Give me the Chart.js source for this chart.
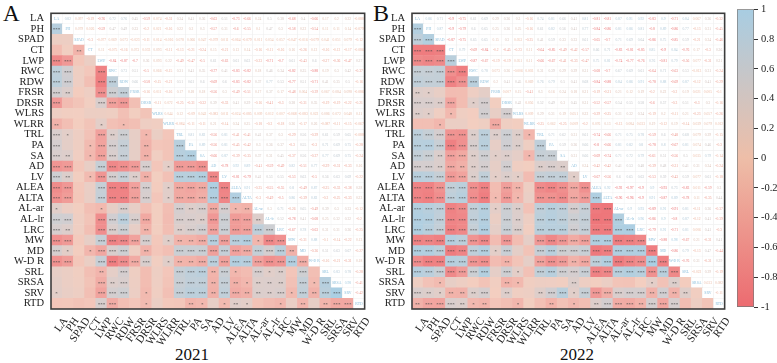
<!DOCTYPE html>
<html><head><meta charset="utf-8">
<style>
html,body{margin:0;padding:0;background:#fff;width:777px;height:363px;overflow:hidden}
canvas{position:absolute}
.t{position:absolute;font-family:"Liberation Serif",serif;color:#111;line-height:1}
</style>
<script src="https://cdn.jsdelivr.net/npm/chart.js@4/dist/chart.umd.min.js"></script>
</head><body>
<div class="t" style="left:3px;top:2px;font-size:23px">A</div>
<div class="t" style="left:373px;top:1px;font-size:24px">B</div>
<div class="t" style="left:175px;top:346px;font-size:17px">2021</div>
<div class="t" style="left:560px;top:346px;font-size:17px">2022</div>
<div style="position:absolute;left:0;top:0;width:376px;height:350px"><canvas id="a"></canvas></div>
<div style="position:absolute;left:360px;top:0;width:376px;height:350px"><canvas id="b"></canvas></div>
<div style="position:absolute;left:733px;top:0;width:44px;height:320px"><canvas id="c"></canvas></div>
<script>
const traits=["LA","PH","SPAD","CT","LWP","RWC","RDW","FRSR","DRSR","WLRS","WLRR","TRL","PA","SA","AD","LV","ALEA","ALTA","AL-ar","AL-lr","LRC","MW","MD","W-D R","SRL","SRSA","SRV","RTD"];
const corr2021=[[],
[.82],
[.097,.079],
[-.19,.026,-.3],
[-.76,-.59,-.077,.11],
[.72,.47,.069,-.075,-.84],
[.76,.49,.073,-.16,-.87,.73],
[.45,.33,-.023,.073,-.7,.51,.66],
[-.59,-.2,-.11,.033,.36,-.5,-.58,-.16],
[.074,.021,.014,.093,.093,.066,-.15,.011,-.11],
[-.31,-.16,-.016,-.11,.22,-.15,-.21,-.16,.072,.044],
[.34,.22,.078,-.13,-.49,.31,.51,.17,-.25,.12,-.084],
[.41,.2,.066,-.21,-.47,.41,.61,.18,-.31,-.09,-.11,.81],
[.36,.3,.047,-.24,-.5,.35,.6,.18,-.32,.042,-.11,.82,.89],
[-.63,-.57,-.079,.15,.61,-.77,-.69,-.56,.39,-.083,.21,-.56,-.56,-.66],
[.51,.31,.011,-.21,-.63,.41,.6,.3,-.33,.011,-.14,.81,.81,.87,-.78],
[-.73,-.6,-.064,.13,.61,-.83,-.83,-.49,.41,-.024,.24,-.41,-.45,-.39,.92,-.81],
[-.66,-.55,-.079,.14,.63,-.82,-.82,-.51,.39,-.085,.25,-.41,-.42,-.35,.89,-.79,.91],
[.24,.1,.011,-.16,-.23,.18,.37,.17,-.16,.009,-.18,.41,.3,.37,-.41,.41,-.25,-.3],
[.5,.47,.054,-.11,-.71,.46,.77,.37,-.41,.012,-.2,.37,.36,.31,-.59,.53,-.55,-.49,.3],
[.38,.3,.057,-.16,-.7,.34,.53,.17,-.3,.007,-.18,.3,.37,.45,-.49,.55,-.55,-.5,.71,.52],
[-.68,-.58,-.047,.16,.61,-.82,-.77,-.48,.38,-.068,.26,-.29,-.3,-.37,.82,-.53,.8,.86,-.26,-.78,-.67],
[.4,.22,-.016,-.26,-.43,.35,.51,.064,-.31,-.083,-.17,.56,.55,.56,-.51,.63,-.49,-.39,.65,.41,.78,-.31],
[-.66,-.54,-.079,.12,.6,-.88,-.71,-.39,.35,.022,.26,-.29,-.3,-.37,.77,-.5,.87,.82,-.49,-.68,-.63,.88,-.36],
[.17,.11,.041,-.16,-.27,.19,.41,.067,-.19,.086,-.087,.61,.71,.77,-.29,.56,-.25,-.2,.39,.25,.31,-.1,.51,-.16],
[.2,.11,.051,-.12,-.36,.3,.35,.084,-.19,.072,-.11,.59,.69,.69,-.31,.63,-.33,-.25,.3,.32,.31,-.14,.63,-.21,.83],
[.22,.14,.079,-.17,-.47,.42,.5,.098,-.22,.048,-.15,.65,.75,.75,-.33,.69,-.38,-.33,.33,.32,.36,-.22,.67,-.31,.78,.98],
[-.088,-.079,-.12,-.086,.37,-.37,-.16,-.086,-.21,.11,-.067,-.088,-.28,-.24,.16,-.22,.28,.23,-.12,-.2,-.25,.13,-.27,.18,-.28,-.41,-.42]];
const corr2022=[[],
[.86],
[.71,.87],
[-.9,-.9,-.87],
[-.75,-.79,-.75,.79],
[.61,.6,.65,-.69,-.87],
[.69,.65,.65,-.84,-.67,.78],
[.29,.25,.15,-.2,-.19,.073,.2],
[.36,.36,.3,-.45,-.19,.26,.41,.007],
[.3,.25,.053,-.23,.051,-.006,.45,.15,.42],
[-.16,-.16,-.25,.11,.11,.003,.069,-.41,.056,.009],
[.74,.61,.41,-.64,-.66,.31,.76,.3,.52,.29,-.25],
[.81,.82,.59,-.85,-.67,.39,.79,.16,.49,.31,.062,.71],
[.66,.56,.33,-.49,-.41,.29,.5,.24,.3,.19,-.25,.62,.59],
[.41,.41,.33,-.42,-.33,.29,.41,.18,.45,.051,.009,.31,.36,.31],
[.81,.77,.61,-.57,-.47,.31,.68,.21,.31,.22,-.2,.61,.66,.66,.24],
[-.81,-.84,-.65,.66,.75,-.68,-.84,-.19,-.52,-.29,.076,-.74,-.8,-.69,-.42,-.67],
[-.81,-.86,-.7,.71,.81,-.7,-.88,-.21,-.57,-.25,.13,-.66,-.66,-.74,-.42,-.56,.92],
[.87,.81,.71,-.83,-.74,.67,.84,.21,.54,.31,-.13,.71,.81,.71,.41,.6,-.92,-.96],
[.91,.86,.69,-.81,-.77,.69,.86,.12,.55,.32,.084,.75,.82,.72,.53,.65,-.97,-.96,.9],
[.92,.81,.64,-.85,-.76,.61,.91,.19,.58,.34,.033,.78,.8,.79,.48,.63,-.9,-.9,.93,.96],
[-.83,-.8,-.86,.85,.76,-.64,-.78,-.2,-.6,-.19,.19,-.59,-.78,-.61,-.39,-.53,.9,.91,-.89,-.86,-.79],
[.9,.89,.75,-.9,-.81,.71,.88,.22,.57,.2,-.12,.6,.8,.51,.48,.59,-.93,-.87,.91,.9,.91,-.88],
[-.71,-.86,-.85,.84,.79,-.63,-.69,-.2,-.3,-.11,.19,-.48,-.67,-.56,-.31,-.43,.73,.89,-.91,-.8,-.71,.98,-.86],
[.84,.77,.59,-.76,-.56,.53,.87,.19,.51,.21,-.14,.68,.81,.5,.41,.59,-.83,-.78,.81,.87,.81,-.67,.79,-.76],
[.067,-.13,-.21,.17,.077,-.013,-.12,.021,-.3,-.23,.039,.079,.074,.035,.31,.077,.011,.11,-.11,-.12,.006,.21,-.13,.31,-.022],
[.36,.31,.24,-.3,-.31,.31,.41,.005,.3,.057,.079,.29,.46,.79,.24,.61,-.59,-.35,.36,.41,.41,-.31,.47,-.31,.29,.033],
[-.32,-.45,-.46,.36,.31,-.24,-.29,-.1,-.16,-.26,.012,-.15,-.3,-.14,-.24,-.18,.3,.44,-.37,-.39,-.3,.41,-.44,.39,-.19,.082,-.11]];
const colorStops=[[236,107,112],[238,190,168],[168,205,226]]; // r = -1, 0, 1
const cellStops=[[238,115,120],[243,206,192],[170,207,228]];
const starCuts=[.21,.27,.34];
const colorbarTicks=[-1,-.8,-.6,-.4,-.2,0,.2,.4,.6,.8,1];

function rgbOf(r,stops){
  const t=Math.abs(r),a=stops[1],b=stops[r<0?0:2];
  return `rgb(${a.map((c,i)=>Math.round(c+(b[i]-c)*t)).join(",")})`;
}
function starsOf(r){return "*".repeat(starCuts.filter(c=>Math.abs(r)>=c).length);}
const serif='"Liberation Serif",serif';

function heatmap(id,matrix,canvasW,axisW){
  const n=traits.length,cells=[],fills=[],lines=[],widths=[];
  for(let row=0;row<n;row++)for(let col=0;col<n;col++){
    const lower=col<row;
    cells.push({x:traits[col],y:[row,row+1]});
    fills.push(lower?rgbOf(matrix[row][col],cellStops):"#fff");
    lines.push(lower?"rgba(0,0,0,0)":"#eeeeee");
    widths.push(lower?0:.5);
  }
  const cellText={id:"cellText",afterDatasetsDraw(ch){
    const c=ch.ctx,xs=ch.scales.x,ys=ch.scales.v,a=ch.chartArea;
    c.save();c.textAlign="center";c.textBaseline="middle";
    for(let row=0;row<n;row++)for(let col=0;col<n;col++){
      const px=xs.getPixelForValue(col),py=ys.getPixelForValue(row+.5);
      if(col<row){
        const s=starsOf(matrix[row][col]);
        if(s){c.font="5px "+serif;c.fillStyle="#444";c.fillText(s,px,py+1);}
      }else if(col===row){
        c.font="3.8px "+serif;c.fillStyle="#8fc0dc";c.fillText(traits[col],px,py);
      }else{
        const v=matrix[col][row];
        c.font="3.6px "+serif;c.fillStyle=rgbOf(v,colorStops);c.fillText(String(v),px,py);
      }
    }
    c.strokeStyle="#3c3c3c";c.lineWidth=1.6;c.strokeRect(a.left,a.top,a.width,a.height);
    c.restore();
  }};
  new Chart(document.getElementById(id),{
    type:"bar",
    data:{labels:traits,datasets:[{data:cells,backgroundColor:fills,borderColor:lines,borderWidth:widths,borderSkipped:false,
      categoryPercentage:1,barPercentage:1,xAxisID:"x",yAxisID:"v"}]},
    plugins:[cellText],
    options:{responsive:true,maintainAspectRatio:false,animation:false,devicePixelRatio:1,
      layout:{padding:{top:5,right:canvasW-(axisW+317),left:0,bottom:0}},
      plugins:{legend:{display:false},tooltip:{enabled:false}},
      scales:{
        x:{type:"category",offset:true,grid:{display:false,drawTicks:false},border:{display:false},
           afterFit:s=>{s.height=41;},
           ticks:{autoSkip:false,minRotation:55,maxRotation:55,padding:6,labelOffset:9,color:"#222",font:{family:serif,size:11}}},
        y:{type:"category",labels:traits,position:"left",offset:true,grid:{display:false,drawTicks:false},border:{display:false},
           afterFit:s=>{s.width=axisW;},
           ticks:{autoSkip:false,padding:7,color:"#222",font:{family:serif,size:10.5}}},
        v:{type:"linear",display:false,min:0,max:n,reverse:true}
      }}
  });
}
heatmap("a",corr2021,376,51);
heatmap("b",corr2022,376,52);

new Chart(document.getElementById("c"),{
  type:"bar",
  data:{labels:[""],datasets:[{data:[[-1,1]],borderWidth:1,borderColor:"#777",borderSkipped:false,categoryPercentage:1,barPercentage:1,
    backgroundColor:ctx=>{
      const a=ctx.chart.chartArea;if(!a)return "#ccc";
      const g=ctx.chart.ctx.createLinearGradient(0,a.bottom,0,a.top);
      colorStops.forEach((s,i)=>g.addColorStop(i/2,`rgb(${s.join(",")})`));
      return g;}}]},
  options:{responsive:true,maintainAspectRatio:false,animation:false,devicePixelRatio:1,
    layout:{padding:{top:3,left:4,right:0,bottom:13}},
    plugins:{legend:{display:false},tooltip:{enabled:false}},
    scales:{
      x:{display:false},
      y:{position:"right",min:-1,max:1,afterBuildTicks:s=>{s.ticks=colorbarTicks.map(value=>({value}));},
         afterFit:s=>{s.width=23;},
         grid:{drawOnChartArea:false,tickLength:4,color:"#333"},border:{display:false},
         ticks:{padding:3,color:"#222",font:{family:serif,size:10.5},callback:v=>String(+v.toFixed(1))}}
    }}
});
</script>
</body></html>
